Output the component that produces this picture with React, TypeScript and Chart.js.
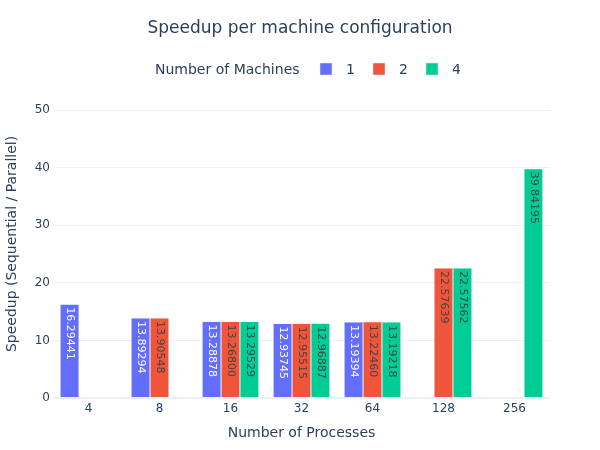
import React, { useEffect, useRef } from "react";
import { Chart, registerables } from "chart.js";

Chart.register(...registerables);

const categories = ["4", "8", "16", "32", "64", "128", "256"];
const seriesNames = ["1", "2", "4"];
const machines1 = [16.29441, 13.89294, 13.28878, 12.93745, 13.19394, null, null];
const machines2 = [null, 13.90548, 13.268, 12.95515, 13.2246, 22.57639, null];
const machines4 = [null, null, 13.29529, 12.96887, 13.19218, 22.57562, 39.84195];
const yTicks = [0, 10, 20, 30, 40, 50];

const colors = ["#636efa", "#EF553B", "#00cc96"];
const textColors = ["#ffffff", "#444444", "#444444"];
const FONT = '"DejaVu Sans", Verdana, sans-serif';
const INK = "#2a3f5f";

const decorPlugin = {
  id: "decor",
  afterDatasetsDraw(chart: any) {
    const ctx = chart.ctx;
    chart.data.datasets.forEach((ds: any, i: number) => {
      const meta = chart.getDatasetMeta(i);
      meta.data.forEach((el: any, j: number) => {
        const v = ds.data[j];
        if (v === null || v === undefined) return;
        const { x, y } = el.getProps(["x", "y"], true);
        ctx.save();
        ctx.translate(x, y + 3);
        ctx.rotate(Math.PI / 2);
        ctx.font = `11px ${FONT}`;
        ctx.fillStyle = textColors[i];
        ctx.textAlign = "left";
        ctx.textBaseline = "middle";
        ctx.fillText(Number(v).toFixed(5), 0, 0);
        ctx.restore();
      });
    });
  },
  afterDraw(chart: any) {
    const ctx = chart.ctx;
    ctx.save();
    ctx.fillStyle = INK;
    ctx.font = `17px ${FONT}`;
    ctx.textAlign = "center";
    ctx.textBaseline = "alphabetic";
    ctx.fillText("Speedup per machine configuration", 300, 33);

    ctx.font = `14px ${FONT}`;
    ctx.textAlign = "left";
    ctx.fillText("Number of Machines", 155, 74);
    seriesNames.forEach((name, i) => {
      const sx = 320 + i * 53;
      ctx.fillStyle = colors[i];
      ctx.fillRect(sx, 63, 12, 12);
      ctx.strokeStyle = "#E5ECF6";
      ctx.lineWidth = 0.5;
      ctx.strokeRect(sx, 63, 12, 12);
      ctx.fillStyle = INK;
      ctx.fillText(name, sx + 26, 74);
    });
    ctx.restore();
  },
};

export default function App() {
  const ref = useRef<HTMLCanvasElement | null>(null);

  useEffect(() => {
    if (!ref.current) return;
    const chart = new Chart(ref.current, {
      type: "bar",
      data: {
        labels: categories,
        datasets: [
          { label: seriesNames[0], data: machines1, backgroundColor: colors[0] },
          { label: seriesNames[1], data: machines2, backgroundColor: colors[1] },
          { label: seriesNames[2], data: machines4, backgroundColor: colors[2] },
        ].map((d) => ({
          ...d,
          borderColor: "#E5ECF6",
          borderWidth: 0.5,
          categoryPercentage: 0.8,
          barPercentage: 1.0,
        })) as any,
      },
      options: {
        responsive: false,
        animation: false,
        layout: { padding: { top: 90, right: 50, left: 0, bottom: 0 } },
        plugins: {
          legend: { display: false },
          title: { display: false },
          tooltip: { enabled: false },
        },
        scales: {
          x: {
            grid: { display: false, drawTicks: false },
            border: { display: false },
            ticks: { color: INK, font: { family: FONT, size: 12 }, padding: 4 },
            title: {
              display: true,
              text: "Number of Processes",
              color: INK,
              font: { family: FONT, size: 14 },
              padding: { top: 0, bottom: 8 },
            },
            afterFit(scale: any) {
              scale.height = 52;
            },
          },
          y: {
            min: 0,
            max: 53.5,
            afterBuildTicks(scale: any) {
              scale.ticks = yTicks.map((v) => ({ value: v }));
            },
            grid: {
              color: "#EBF0F8",
              lineWidth: (c: any) => (c.tick && c.tick.value === 0 ? 2 : 1),
              drawTicks: false,
            },
            border: { display: false },
            ticks: { color: INK, font: { family: FONT, size: 12 }, padding: 3 },
            title: {
              display: true,
              text: "Speedup (Sequential / Parallel)",
              color: INK,
              font: { family: FONT, size: 14 },
              padding: { top: 4, bottom: 0 },
            },
            afterFit(scale: any) {
              scale.width = 53;
            },
          },
        },
      },
      plugins: [decorPlugin],
    });
    return () => chart.destroy();
  }, []);

  return (
    <div style={{ position: "fixed", left: 0, top: 0, width: 600, height: 450, background: "#fff" }}>
      <canvas ref={ref} width={600} height={450} style={{ display: "block" }} />
    </div>
  );
}
